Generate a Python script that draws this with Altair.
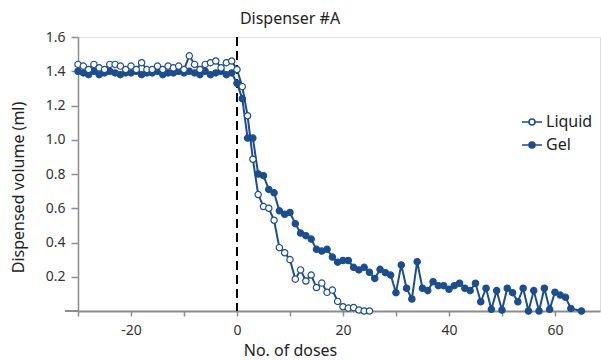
import altair as alt
import pandas as pd

BLUE = "#1B4D91"
FONT = "Noto Sans"

liquid_doses = list(range(-30, 26))
liquid_vol = [1.44, 1.43, 1.41, 1.44, 1.42, 1.41, 1.44, 1.44, 1.43, 1.41,
              1.43, 1.41, 1.45, 1.41, 1.41, 1.43, 1.41, 1.43, 1.42, 1.43,
              1.41, 1.49, 1.44, 1.41, 1.44, 1.45, 1.46, 1.42, 1.45, 1.46,
              1.41,
              1.31, 1.14, 0.886, 0.68, 0.61, 0.60, 0.53, 0.37, 0.34, 0.30,
              0.186, 0.24, 0.175, 0.21, 0.137, 0.163, 0.109, 0.122, 0.056, 0.025,
              0.017, 0.02, 0.006, 0.0, 0.0]

gel_doses = list(range(-30, 64)) + [65]
gel_vol = [1.40, 1.39, 1.38, 1.40, 1.38, 1.39, 1.40, 1.39, 1.38, 1.39,
           1.39, 1.40, 1.38, 1.39, 1.39, 1.40, 1.38, 1.39, 1.39, 1.40,
           1.39, 1.40, 1.39, 1.38, 1.40, 1.38, 1.39, 1.40, 1.38, 1.39,
           1.33, 1.24, 1.01, 1.01, 0.80, 0.79, 0.71, 0.69, 0.585, 0.565,
           0.575, 0.51, 0.455, 0.44, 0.42, 0.36, 0.35, 0.36, 0.315, 0.285,
           0.295, 0.295,
           0.255, 0.24, 0.255, 0.226, 0.19, 0.243, 0.224, 0.21, 0.107, 0.269,
           0.133, 0.07, 0.288, 0.133, 0.119, 0.171, 0.148, 0.148, 0.127, 0.148,
           0.162, 0.133, 0.119,
           0.162, 0.054, 0.133, 0.01, 0.119, 0.006, 0.133, 0.107, 0.054, 0.133,
           0.0, 0.119, 0.0, 0.133, 0.01, 0.11, 0.093, 0.08, 0.015,
           0.0]

series_names = ["Liquid", "Gel"]
x_ticks = list(range(-30, 70, 10))
y_ticks = [0.2, 0.4, 0.6, 0.8, 1.0, 1.2, 1.4, 1.6]

rows = []
for d, v in zip(gel_doses, gel_vol):
    rows.append({"series": "Gel", "dose": d, "vol": v, "order": 0})
for d, v in zip(liquid_doses, liquid_vol):
    rows.append({"series": "Liquid", "dose": d, "vol": v, "order": 1})
df = pd.DataFrame(rows)

x_enc = alt.X("dose:Q",
              scale=alt.Scale(domain=[-30, 68.5], nice=False, zero=False),
              axis=alt.Axis(values=x_ticks, grid=False, title="No. of doses",
                            labelExpr="datum.value % 20 == 0 ? '' + datum.value : ''",
                            labelOverlap=False,
                            tickSize=5, labelPadding=7, labelFontSize=14,
                            labelColor="#333333", domainColor="#8c8c8c",
                            domainWidth=2, tickColor="#8c8c8c", tickWidth=1.5,
                            titleFontSize=16, titleFontWeight="normal",
                            titleColor="#222222", titleX=212, titleY=44,
                            titleBaseline="alphabetic", titleAnchor="start",
                            titleAlign="center"))
y_enc = alt.Y("vol:Q",
              scale=alt.Scale(domain=[0, 1.6], nice=False),
              axis=alt.Axis(values=y_ticks, format=".1f", grid=False,
                            labelOverlap=False, labelBound=False,
                            title="Dispensed volume (ml)",
                            tickSize=7, labelPadding=6, labelFontSize=14,
                            labelColor="#333333", domainColor="#8c8c8c",
                            domainWidth=1.5, tickColor="#8c8c8c", tickWidth=1.5,
                            titleFontSize=16, titleFontWeight="normal",
                            titleColor="#222222", titleAngle=-90,
                            titleX=-60, titleY=150, titleAlign="center",
                            titleBaseline="middle", titleAnchor="start"))

base = alt.Chart(df)

lines = base.mark_line(strokeWidth=2, color=BLUE).encode(
    x=x_enc, y=y_enc, detail="series:N", order="dose:Q"
)

legend_path = "M-1,0H-0.3A0.3,0.3,0,1,1,0.3,0H1M0.3,0A0.3,0.3,0,1,1,-0.3,0"

points = base.mark_point(shape="circle", filled=True, size=40,
                         strokeWidth=1.2, stroke=BLUE, opacity=1).encode(
    x=x_enc, y=y_enc,
    fill=alt.Fill("series:N",
                  scale=alt.Scale(domain=series_names, range=["white", BLUE]),
                  legend=alt.Legend(title=None, orient="none", legendX=443,
                                    legendY=74, symbolType=legend_path,
                                    symbolSize=400, symbolStrokeColor=BLUE,
                                    symbolStrokeWidth=1.6, labelFontSize=16,
                                    labelColor="#222222", labelOffset=3,
                                    rowPadding=4, labelFont=FONT)),
    order=alt.Order("order:Q")
)

rule_df = pd.DataFrame({"dose": [0]})
vline = alt.Chart(rule_df).mark_rule(color="black", strokeWidth=2,
                                     strokeDash=[9, 5]).encode(x=x_enc)

axis_ext = alt.Chart(rule_df).mark_rule(color="#8c8c8c", strokeWidth=2).encode(
    x=alt.value(-13), x2=alt.value(0), y=alt.value(274)
)

chart = alt.layer(vline, lines, points, axis_ext).properties(
    width=522, height=274,
    padding={"left": 78, "top": 37, "right": 1, "bottom": 49},
    autosize=alt.AutoSizeParams(type="none"),
    title=alt.TitleParams("Dispenser #A", fontSize=16, fontWeight="normal",
                          color="#222222", font=FONT, offset=3, dx=-49,
                          anchor="middle"),
).configure_view(stroke=None).configure(font=FONT).configure_axis(
    labelFont=FONT, titleFont=FONT, labelOverlap=False
).configure_axisY(labelOverlap=False)

chart.save("out.html", embed_options={"renderer": "svg", "actions": False})
